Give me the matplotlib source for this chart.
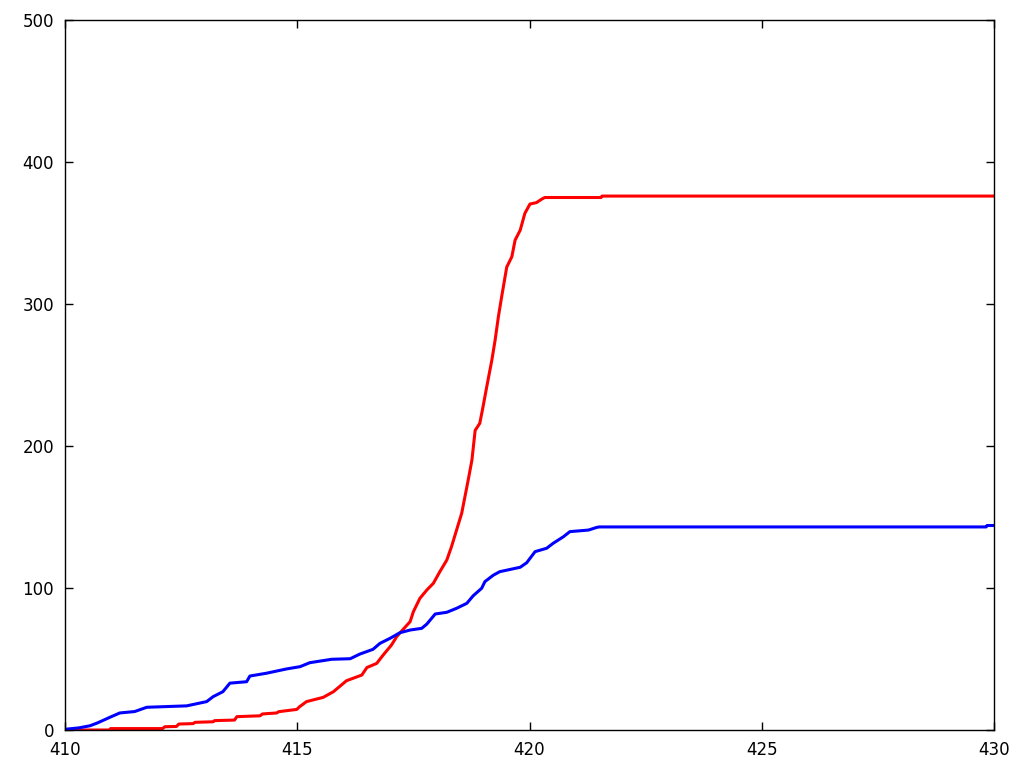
import matplotlib
matplotlib.use("Agg")
import matplotlib.pyplot as plt

# Red series: vertices
red_x = [410.0, 410.97, 410.98, 412.1, 412.15, 412.4, 412.45, 412.76, 412.8, 413.19,
         413.22, 413.65, 413.7, 414.2, 414.25, 414.56, 414.6, 414.99, 415.05, 415.2,
         415.56, 415.78, 416.06, 416.39, 416.5, 416.71, 416.85, 417.03, 417.14, 417.28,
         417.43, 417.5, 417.64, 417.79, 417.93, 418.07, 418.22, 418.32, 418.43, 418.54,
         418.61, 418.68, 418.76, 418.83, 418.93, 419.0, 419.08, 419.19, 419.26, 419.33,
         419.4, 419.51, 419.62, 419.69, 419.8, 419.9, 420.01, 420.15, 420.26, 420.33,
         421.54, 421.56, 430.0]
red_y = [0, 0, 1, 1, 2.3, 2.5, 4.2, 4.5, 5.4, 5.8,
         6.6, 7, 9.4, 10, 11.3, 12, 12.9, 14.5, 16.4, 20,
         23, 27, 34.7, 38.7, 44, 46.9, 52.8, 59.9, 65.7, 70.9,
         76.3, 83.3, 92.7, 98.6, 103.3, 111.5, 119.7, 129, 140.8, 152.6,
         164.3, 176, 190, 211, 216, 227.7, 241.8, 260.6, 274.6, 291,
         305, 326, 333.3, 345, 352, 363.8, 370.4, 371.4, 373.8, 375,
         375, 376, 376]

# Blue series: vertices
blue_x = [410.0, 410.3, 410.54, 410.7, 410.97, 411.18, 411.5, 411.76, 412.62, 413.05,
          413.19, 413.4, 413.55, 413.91, 413.98, 414.34, 414.77, 415.06, 415.27, 415.74,
          416.14, 416.35, 416.63, 416.78, 417.0, 417.21, 417.43, 417.68, 417.79, 417.97,
          418.22, 418.43, 418.65, 418.79, 418.97, 419.04, 419.22, 419.36, 419.8, 419.94,
          420.12, 420.37, 420.51, 420.73, 420.87, 421.27, 421.45, 421.5, 429.83, 429.85,
          430.0]
blue_y = [0.5, 1.5, 3, 5, 9, 12, 13, 16, 17, 20,
          23.5, 27, 33, 34, 38, 40, 43, 44.6, 47.4, 49.8,
          50.2, 53.5, 56.8, 61, 64.6, 68.5, 70.4, 71.6, 74.6, 81.7,
          82.9, 85.7, 89.2, 94.6, 99.8, 104.5, 109, 111.5, 114.6, 117.8,
          125.6, 128, 131.5, 136.1, 139.7, 140.8, 142.7, 143, 143, 144,
          144]

x_ticks = [410, 415, 420, 425, 430]
y_ticks = [0, 100, 200, 300, 400, 500]

fig = plt.figure(figsize=(10.24, 7.68), dpi=100)
ax = fig.add_axes([65/1024, 38/768, 929/1024, 710/768])

ax.plot(red_x, red_y, color="#ff0000", lw=2.2, zorder=3)
ax.plot(blue_x, blue_y, color="#0000ff", lw=2.2, zorder=4)

ax.set_xlim(410, 430)
ax.set_ylim(0, 500)
ax.set_xticks(x_ticks)
ax.set_yticks(y_ticks)
ax.tick_params(direction="in", length=6, width=1, top=True, right=True,
               labelsize=12, pad=8)
for s in ax.spines.values():
    s.set_linewidth(1)
    s.set_zorder(5)

fig.savefig("out.png", dpi=100)
